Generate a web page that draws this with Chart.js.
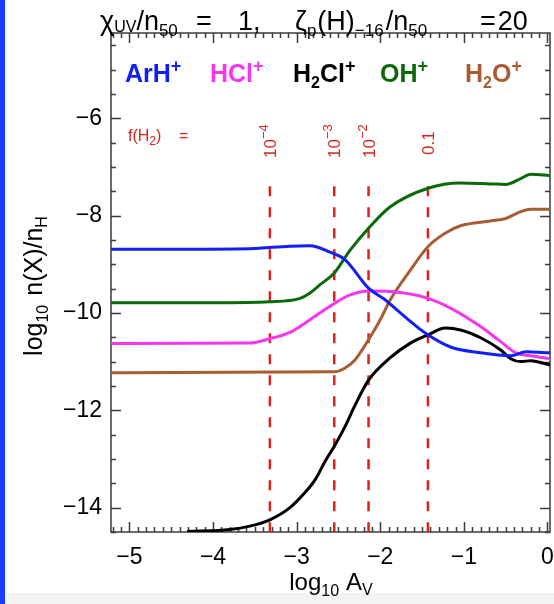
<!DOCTYPE html>
<html>
<head>
<meta charset="utf-8">
<script src="https://cdn.jsdelivr.net/npm/chart.js@4.4.1/dist/chart.umd.min.js"></script>
<style>
  html, body { margin: 0; padding: 0; background: #fff; overflow: hidden; }
  canvas { display: block; }
</style>
</head>
<body>
<canvas id="c" width="554" height="604"></canvas>
<script>
// log10 A_V sample points and log10 n(X)/n_H abundances for each ion
const arhX = [-5.22, -4.5, -3.56, -3.08, -2.84, -2.60, -2.42, -2.14, -1.95, -1.76, -1.43, -1.16, -0.80, -0.44, -0.26, 0.03];
const arhY = [-8.69, -8.69, -8.68, -8.63, -8.62, -8.75, -8.91, -9.49, -9.72, -10.0, -10.45, -10.70, -10.82, -10.88, -10.80, -10.82];

const hclX = [-5.22, -3.56, -3.32, -3.08, -2.84, -2.60, -2.36, -2.14, -1.88, -1.43, -1.16, -0.80, -0.56, -0.38, -0.20, 0.03];
const hclY = [-10.63, -10.62, -10.53, -10.40, -10.14, -9.86, -9.63, -9.55, -9.56, -9.70, -9.90, -10.28, -10.59, -10.82, -10.88, -10.94];

const h2clX = [-4.31, -3.80, -3.56, -3.32, -3.08, -2.90, -2.78, -2.66, -2.55, -2.42, -2.30, -2.14, -1.88, -1.64, -1.43, -1.22, -1.04, -0.80, -0.56, -0.44, -0.32, -0.20, 0.03];
const h2clY = [-14.49, -14.45, -14.38, -14.25, -14.00, -13.69, -13.43, -13.05, -12.74, -12.33, -11.89, -11.38, -10.92, -10.62, -10.45, -10.31, -10.35, -10.51, -10.76, -10.94, -11.00, -10.98, -11.07];

const ohX = [-5.22, -4.0, -3.32, -2.96, -2.84, -2.72, -2.55, -2.36, -2.14, -1.88, -1.43, -1.04, -0.68, -0.50, -0.32, -0.20, 0.03];
const ohY = [-9.79, -9.79, -9.77, -9.70, -9.59, -9.42, -9.18, -8.71, -8.26, -7.82, -7.44, -7.33, -7.35, -7.36, -7.24, -7.15, -7.18];

const h2oX = [-5.22, -2.55, -2.42, -2.30, -2.14, -2.00, -1.88, -1.64, -1.43, -1.22, -1.04, -0.68, -0.50, -0.32, -0.20, 0.03];
const h2oY = [-11.23, -11.21, -11.13, -10.96, -10.55, -10.14, -9.73, -9.12, -8.64, -8.36, -8.21, -8.11, -8.06, -7.92, -7.87, -7.87];

const species = ['ArH+', 'HCl+', 'H2Cl+', 'OH+', 'H2O+'];
const speciesColors = ['#1020f5', '#f536f0', '#000000', '#0a6a0a', '#a85c34'];

// A_V where the molecular fraction f(H2) reaches the marked values
const fracX = [-3.32, -2.55, -2.14, -1.43];
const fracBase = ['10', '10', '10', '0.1'];
const fracExp = ['−4', '−3', '−2', ''];
const fracTop = -7.40;

// axis ranges and ticks
const xMin = -5.22, xMax = 0.03;
const yMin = -14.5, yMax = -4.25;
const xMajor = 1, xMinor = 0.1;
const yMajor = 2, yMinor = 0.5;

const FONT = '"Liberation Sans", Arial, Helvetica, sans-serif';

const pts = (xs, ys) => xs.map((x, i) => ({ x, y: ys[i] }));
const curves = [[arhX, arhY], [hclX, hclY], [h2clX, h2clY], [ohX, ohY], [h2oX, h2oY]];

const datasets = curves.map((c, i) => ({
  label: species[i],
  data: pts(c[0], c[1]),
  borderColor: speciesColors[i],
  borderWidth: 3,
  cubicInterpolationMode: 'monotone',
  pointRadius: 0,
  fill: false
}));
fracX.forEach((fx) => {
  datasets.push({
    label: 'f(H2)',
    data: [{ x: fx, y: fracTop }, { x: fx, y: yMin }],
    borderColor: '#d8231f',
    borderWidth: 2.5,
    borderDash: [10, 11],
    tension: 0,
    pointRadius: 0,
    fill: false
  });
});

const minusFmt = (v) => (v < 0 ? '−' + Math.abs(v) : String(v));

// draws a run of text pieces with their own sizes and offsets
function drawRuns(ctx, x, y, runs, weight, color) {
  let cx = x;
  for (const r of runs) {
    ctx.font = `${weight} ${r.s}px ${FONT}`;
    ctx.fillStyle = r.c || color;
    ctx.fillText(r.t, cx, y + (r.dy || 0));
    cx += ctx.measureText(r.t).width + (r.gap || 0);
  }
  return cx;
}
function runsWidth(ctx, runs, weight) {
  let w = 0;
  for (const r of runs) {
    ctx.font = `${weight} ${r.s}px ${FONT}`;
    w += ctx.measureText(r.t).width + (r.gap || 0);
  }
  return w;
}
// species label: digits become subscripts, '+' becomes a superscript
const LEG = 25;
function speciesRuns(name) {
  const runs = [];
  for (const ch of name) {
    if (/[0-9]/.test(ch)) runs.push({ t: ch, s: 16, dy: 6 });
    else if (ch === '+') runs.push({ t: '+', s: 18, dy: -10, gap: 0 });
    else {
      const last = runs[runs.length - 1];
      if (last && last.s === LEG) last.t += ch; else runs.push({ t: ch, s: LEG });
    }
  }
  return runs;
}

const backdrop = {
  id: 'backdrop',
  beforeDraw(chart) {
    const ctx = chart.ctx;
    ctx.save();
    ctx.fillStyle = '#ffffff';
    ctx.fillRect(0, 0, chart.width, chart.height);
    ctx.fillStyle = '#f3f3f3';
    ctx.fillRect(0, 593, chart.width, chart.height - 593);
    ctx.fillStyle = '#1a3cff';
    ctx.fillRect(0, 0, 5, chart.height);
    ctx.restore();
  }
};

const frame = {
  id: 'frame',
  beforeDatasetsDraw(chart) {
    const ctx = chart.ctx;
    const a = chart.chartArea;
    const xs = chart.scales.x, ys = chart.scales.y;
    ctx.save();
    ctx.strokeStyle = '#3a3a3a';
    ctx.lineWidth = 1.5;
    ctx.strokeRect(a.left, a.top, a.right - a.left, a.bottom - a.top);
    ctx.beginPath();
    // x ticks, bottom and top, pointing into the box
    for (let k = Math.ceil(xMin / xMinor); k * xMinor <= xMax + 1e-9; k++) {
      const v = k * xMinor;
      const major = Math.abs(v / xMajor - Math.round(v / xMajor)) < 1e-6;
      const len = major ? 10 : 5;
      const px = Math.round(xs.getPixelForValue(v)) + 0.5;
      ctx.moveTo(px, a.bottom); ctx.lineTo(px, a.bottom - len);
      ctx.moveTo(px, a.top); ctx.lineTo(px, a.top + len);
    }
    // y ticks, left and right
    for (let k = Math.ceil(yMin / yMinor); k * yMinor <= yMax + 1e-9; k++) {
      const v = k * yMinor;
      const major = Math.abs(v / yMajor - Math.round(v / yMajor)) < 1e-6;
      const len = major ? 10 : 5;
      const py = Math.round(ys.getPixelForValue(v)) + 0.5;
      ctx.moveTo(a.left, py); ctx.lineTo(a.left + len, py);
      ctx.moveTo(a.right, py); ctx.lineTo(a.right - len, py);
    }
    ctx.stroke();
    ctx.restore();
  },
  afterDatasetsDraw(chart) {
    const ctx = chart.ctx;
    const xs = chart.scales.x;
    ctx.save();
    ctx.textBaseline = 'alphabetic';
    ctx.textAlign = 'left';

    // title, in groups
    const T = 27, S = 17;
    drawRuns(ctx, 100, 30, [
      { t: 'χ', s: T }, { t: 'UV', s: 16, dy: 2 }, { t: '/n', s: T }, { t: '50', s: S, dy: 6 }
    ], 'normal', '#000');
    drawRuns(ctx, 196, 30, [{ t: '=', s: T }], 'normal', '#000');
    drawRuns(ctx, 238, 30, [{ t: '1,', s: T }], 'normal', '#000');
    drawRuns(ctx, 295, 30, [
      { t: 'ζ', s: T }, { t: 'p', s: S, dy: 6, gap: 1 }, { t: '(H)', s: T }, { t: '−16', s: S, dy: 6, gap: 2 },
      { t: '/n', s: T }, { t: '50', s: S, dy: 6 }
    ], 'normal', '#000');
    drawRuns(ctx, 480, 30, [{ t: '=', s: T, gap: 2 }, { t: '20', s: T }], 'normal', '#000');

    // species legend in the line colours
    const legendX = [125, 210, 293, 380, 465];
    chart.data.datasets.slice(0, species.length).forEach((ds, i) => {
      drawRuns(ctx, legendX[i], 82, speciesRuns(ds.label), 'bold', ds.borderColor);
    });

    // f(H2) annotations
    drawRuns(ctx, 128, 141, [
      { t: 'f(H', s: 16 }, { t: '2', s: 12, dy: 4 }, { t: ')    =', s: 16 }
    ], 'normal', '#d8231f');
    fracX.forEach((fx, i) => {
      const px = xs.getPixelForValue(fx);
      ctx.save();
      ctx.translate(px + 6, fracExp[i] ? 158 : 155);
      ctx.rotate(-Math.PI / 2);
      const runs = [{ t: fracBase[i], s: 17 }];
      if (fracExp[i]) runs.push({ t: fracExp[i], s: 13, dy: -8 });
      drawRuns(ctx, 0, 0, runs, 'normal', '#d8231f');
      ctx.restore();
    });

    // axis titles
    const xt = [{ t: 'log', s: 24 }, { t: '10', s: 16, dy: 6, gap: 7 }, { t: 'A', s: 24 }, { t: 'V', s: 16, dy: 5 }];
    const xw = runsWidth(ctx, xt, 'normal');
    drawRuns(ctx, 331 - xw / 2, 590, xt, 'normal', '#000');

    const yt = [{ t: 'log', s: 25 }, { t: '10', s: 16, dy: 6, gap: 9 }, { t: 'n(X)/n', s: 25 }, { t: 'H', s: 16, dy: 5 }];
    const yw = runsWidth(ctx, yt, 'normal');
    ctx.save();
    ctx.translate(42, 286);
    ctx.rotate(-Math.PI / 2);
    drawRuns(ctx, -yw / 2, 0, yt, 'normal', '#000');
    ctx.restore();

    ctx.restore();
  }
};

new Chart(document.getElementById('c'), {
  type: 'line',
  data: { datasets },
  options: {
    responsive: false,
    animation: false,
    devicePixelRatio: 1,
    layout: { padding: { top: 33, right: 4, left: 0, bottom: 0 } },
    plugins: {
      legend: { display: false },
      tooltip: { enabled: false },
      title: { display: false }
    },
    scales: {
      x: {
        type: 'linear',
        min: xMin,
        max: xMax,
        afterFit(scale) {
          scale.height = 72;
          scale.paddingLeft = 0;
          scale.paddingRight = 0;
        },
        grid: { display: false, drawTicks: false },
        border: { display: false },
        ticks: {
          stepSize: xMajor,
          includeBounds: false,
          padding: 12,
          maxRotation: 0,
          autoSkip: false,
          color: '#000',
          font: { family: FONT, size: 23 },
          callback: (v) => minusFmt(v)
        }
      },
      y: {
        type: 'linear',
        min: yMin,
        max: yMax,
        afterFit(scale) {
          scale.width = 111;
          scale.paddingTop = 0;
          scale.paddingBottom = 0;
        },
        grid: { display: false, drawTicks: false },
        border: { display: false },
        ticks: {
          stepSize: yMajor,
          includeBounds: false,
          padding: 9,
          autoSkip: false,
          color: '#000',
          font: { family: FONT, size: 23 },
          callback: (v) => minusFmt(v)
        }
      }
    }
  },
  plugins: [backdrop, frame]
});
</script>
</body>
</html>
